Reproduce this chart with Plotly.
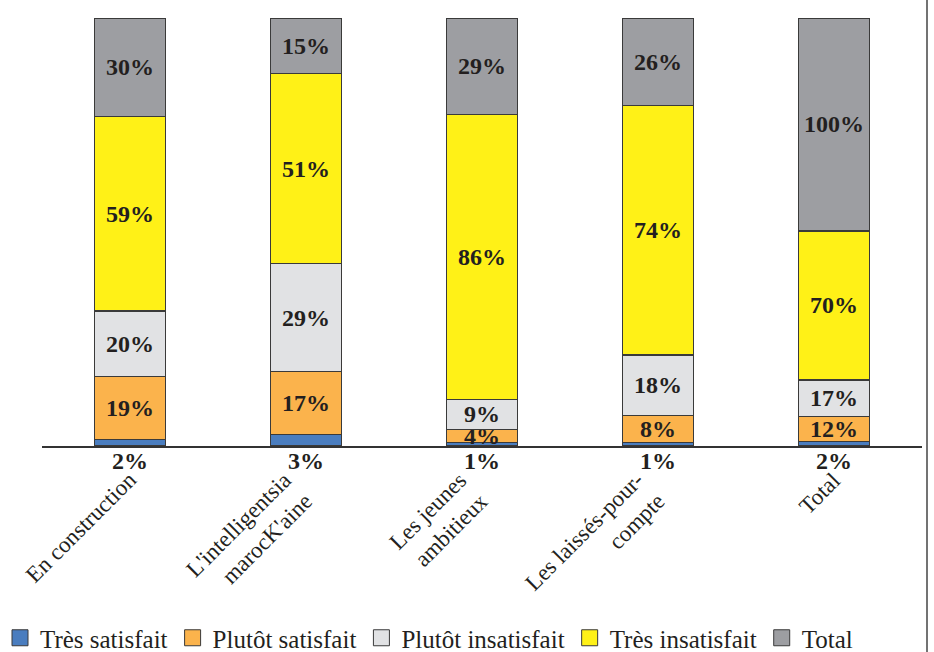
import plotly.graph_objects as go

# Satisfaction by segment (raw shares, each bar is normalised to 100 %)
categories = [
    "En construction",
    "L'intelligentsia<br>marocK'aine",
    "Les jeunes<br>ambitieux",
    "Les laissés-pour-<br>compte",
    "Total",
]
tres_satisfait = [2, 3, 1, 1, 2]
plutot_satisfait = [19, 17, 4, 8, 12]
plutot_insatisfait = [20, 29, 9, 18, 17]
tres_insatisfait = [59, 51, 86, 74, 70]
total = [30, 15, 29, 26, 100]

series = [
    ("Très satisfait", tres_satisfait, "#4a7dbf"),
    ("Plutôt satisfait", plutot_satisfait, "#fbb34c"),
    ("Plutôt insatisfait", plutot_insatisfait, "#e1e2e4"),
    ("Très insatisfait", tres_insatisfait, "#fff117"),
    ("Total", total, "#9d9ea2"),
]

SERIF = "Liberation Serif"
INK = "#231f20"
EDGE = "#3a3a3a"
VAL_SIZE = 24

fig = go.Figure()
for i, (name, vals, color) in enumerate(series):
    fig.add_trace(go.Bar(
        name=name,
        x=categories,
        y=vals,
        legendgroup=name,
        showlegend=False,
        marker=dict(color=color, line=dict(color=EDGE, width=1.2)),
        text=None if i == 0 else [f"<b>{v}%</b>" for v in vals],
        textposition="none" if i == 0 else "inside",
        insidetextanchor="middle",
        textangle=0,
        textfont=dict(family=SERIF, size=VAL_SIZE, color=INK),
        hoverinfo="skip",
    ))

# legend keys: larger square swatches than the default bar key
for name, _, color in series:
    fig.add_trace(go.Scatter(
        x=[None], y=[None], mode="markers", name=name, legendgroup=name,
        marker=dict(symbol="square", size=16, color=color,
                    line=dict(color=EDGE, width=1)),
        hoverinfo="skip",
    ))

# labels of the thin bottom segment sit just under the axis line
for cat, v in zip(categories, tres_satisfait):
    fig.add_annotation(
        x=cat, y=0, xref="x", yref="y",
        text=f"<b>{v}%</b>", showarrow=False,
        yanchor="top", yshift=0,
        font=dict(family=SERIF, size=VAL_SIZE, color=INK),
    )

# slanted category names under the value labels
for cat in categories:
    fig.add_annotation(
        x=cat, y=0, xref="x", yref="y",
        text=cat, showarrow=False, textangle=-45, align="right",
        xanchor="right", yanchor="top", xshift=14, yshift=-19,
        font=dict(family=SERIF, size=23, color=INK),
    )

# frame edge on the right
fig.add_shape(type="line", xref="paper", yref="paper",
              x0=1 + 5 / 880, x1=1 + 5 / 880, y0=-1, y1=1.1,
              line=dict(color="#444444", width=1.5))

fig.update_layout(
    width=934, height=652,
    margin=dict(l=42, r=12, t=18, b=206, autoexpand=False),
    barmode="stack", barnorm="percent", bargap=0.6,
    paper_bgcolor="white", plot_bgcolor="white",
    uniformtext=dict(mode="show", minsize=VAL_SIZE),
    showlegend=True,
    legend=dict(
        orientation="h", traceorder="normal", itemsizing="trace",
        x=0.0, xanchor="left", xref="container",
        y=-0.4486, yanchor="middle", yref="paper",
        font=dict(family=SERIF, size=25, color=INK),
        itemclick=False, itemdoubleclick=False,
    ),
    font=dict(family=SERIF, color=INK),
)
fig.update_xaxes(
    range=[-0.5, len(categories) - 0.5],
    showline=True, linecolor="#333333", linewidth=1.5,
    ticks="", showticklabels=False,
    showgrid=False, automargin=False,
)
fig.update_yaxes(visible=False, range=[0, 100], showgrid=False, automargin=False)

fig.write_html("out.html")
